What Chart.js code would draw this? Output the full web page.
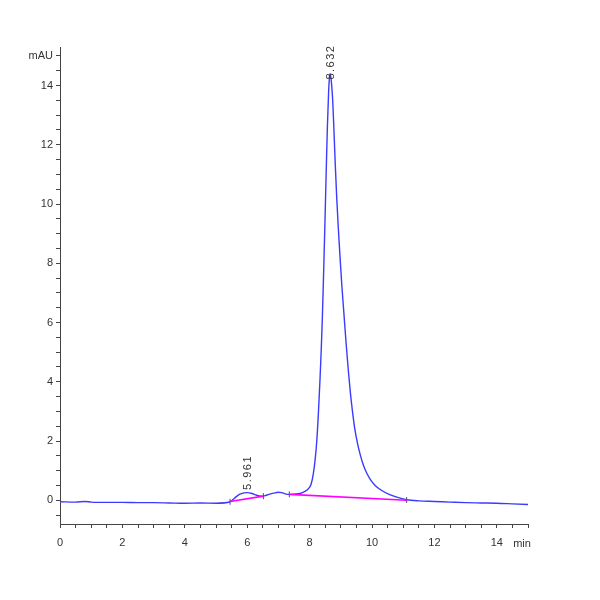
<!DOCTYPE html>
<html>
<head>
<meta charset="utf-8">
<script src="https://cdn.jsdelivr.net/npm/chart.js@4/dist/chart.umd.min.js"></script>
<style>
  body { margin: 0; background: #fff; }
  #wrap { width: 600px; height: 600px; }
</style>
</head>
<body>
<div id="wrap"><canvas id="chrom"></canvas></div>
<script>
// retention time (min) and detector signal (mAU)
const times = [0, 0.5, 0.8, 1.0, 1.5, 2.0, 2.5, 3.0, 3.5, 4.0, 4.5, 5.0, 5.45, 5.6, 5.75, 5.9, 6.0, 6.15, 6.3, 6.45,
  6.55, 6.7, 6.85, 7.0, 7.1, 7.25, 7.35, 7.5, 7.69, 7.85, 7.96, 8.05, 8.12, 8.18, 8.23, 8.28, 8.33, 8.37, 8.41, 8.45,
  8.49, 8.53, 8.57, 8.61, 8.64, 8.66, 8.70, 8.74, 8.78, 8.82, 8.87, 8.92, 8.97, 9.03, 9.10, 9.17, 9.24, 9.31, 9.38,
  9.45, 9.53, 9.62, 9.72, 9.83, 9.95, 10.10, 10.30, 10.55, 10.85, 11.11, 11.5, 12.0, 12.5, 13.0, 13.5, 14.0, 14.5, 15.0];
const signal = [-0.05, -0.06, -0.04, -0.06, -0.07, -0.07, -0.08, -0.08, -0.09, -0.1, -0.09, -0.1, -0.05, 0.08, 0.2, 0.25, 0.26, 0.23, 0.17, 0.14,
  0.15, 0.2, 0.24, 0.27, 0.26, 0.21, 0.2, 0.21, 0.23, 0.3, 0.39, 0.55, 0.9, 1.4, 2.0, 2.9, 4.0, 5.0, 6.2, 7.7,
  9.3, 11.0, 12.6, 13.8, 14.3, 14.4, 14.1, 13.5, 12.5, 11.4, 10.2, 9.2, 8.3, 7.3, 6.3, 5.3, 4.4, 3.6, 2.95,
  2.4, 1.95, 1.55, 1.2, 0.92, 0.7, 0.5, 0.34, 0.2, 0.09, 0.02, -0.02, -0.04, -0.06, -0.08, -0.09, -0.1, -0.12, -0.14];

// integration baselines (start/end time and level)
const base1Times = [5.45, 6.52];
const base1Values = [-0.04, 0.14];
const base2Times = [7.35, 11.11];
const base2Values = [0.2, 0.0];

// integration event markers
const eventTimes = [5.45, 6.52, 7.35, 11.11];
const eventValues = [-0.05, 0.14, 0.2, 0.01];

// peak labels
const peakTimes = [5.961, 8.632];
const peakLabelAt = [0.35, 14.2];
const peakNames = ['5.961', '8.632'];

const xMajor = [0, 2, 4, 6, 8, 10, 12, 14];
const yMajor = [0, 2, 4, 6, 8, 10, 12, 14];

const pts = (xs, ys) => xs.map((x, i) => ({ x: x, y: ys[i] }));
const fontFam = "'Liberation Sans Narrow', 'Liberation Sans', Arial, sans-serif";

const peakLabelPlugin = {
  id: 'peakLabels',
  afterDatasetsDraw(chart) {
    const { ctx, scales } = chart;
    ctx.save();
    ctx.font = '11px ' + fontFam;
    ctx.fillStyle = '#333';
    ctx.textAlign = 'left';
    ctx.textBaseline = 'middle';
    ctx.letterSpacing = '1.5px';
    peakTimes.forEach((t, i) => {
      const px = scales.x.getPixelForValue(t);
      const py = scales.y.getPixelForValue(peakLabelAt[i]);
      ctx.save();
      ctx.translate(px + 2, py);
      ctx.rotate(-Math.PI / 2);
      ctx.fillText(peakNames[i], 0, 0);
      ctx.restore();
    });
    // x axis unit
    ctx.letterSpacing = '0px';
    ctx.textAlign = 'center';
    ctx.textBaseline = 'top';
    ctx.fillText('min', scales.x.right - 6, scales.x.top + 14);
    ctx.restore();
  }
};

const halfSteps = (lo, hi) => {
  const out = [];
  for (let v = lo; v <= hi + 1e-9; v += 0.5) out.push({ value: Math.round(v * 10) / 10 });
  return out;
};

new Chart(document.getElementById('chrom'), {
  type: 'line',
  data: {
    datasets: [{
      data: pts(base1Times, base1Values),
      borderColor: '#ff00ff',
      borderWidth: 1.6,
      pointRadius: 0
    }, {
      data: pts(base2Times, base2Values),
      borderColor: '#ff00ff',
      borderWidth: 1.6,
      pointRadius: 0
    }, {
      data: pts(times, signal),
      borderColor: '#3b3bff',
      borderWidth: 1.4,
      pointRadius: 0,
      cubicInterpolationMode: 'monotone'
    }, {
      data: pts(eventTimes, eventValues),
      showLine: false,
      pointStyle: 'line',
      rotation: 90,
      pointRadius: 3,
      borderColor: '#555',
      borderWidth: 1
    }]
  },
  options: {
    responsive: true,
    maintainAspectRatio: false,
    animation: false,
    layout: { padding: { left: 0, right: 72, top: 47, bottom: 40 } },
    plugins: { legend: { display: false }, tooltip: { enabled: false } },
    scales: {
      x: {
        type: 'linear',
        min: 0,
        max: 15,
        afterBuildTicks: axis => { axis.ticks = halfSteps(0, 15); },
        afterFit: axis => { axis.height = 36; },
        grid: { drawOnChartArea: false, tickLength: 4, tickColor: '#444' },
        border: { color: '#444' },
        ticks: {
          color: '#333',
          font: { family: fontFam, size: 11 },
          maxRotation: 0,
          autoSkip: false,
          padding: 8,
          callback: v => xMajor.includes(v) ? String(v) : ''
        }
      },
      y: {
        min: -0.8,
        max: 15.3,
        afterBuildTicks: axis => { axis.ticks = halfSteps(-0.5, 15); },
        afterFit: axis => { axis.width = 60; },
        grid: { drawOnChartArea: false, tickLength: 4, tickColor: '#444' },
        border: { color: '#444' },
        ticks: {
          color: '#333',
          font: { family: fontFam, size: 11 },
          autoSkip: false,
          padding: 3,
          callback: v => v === 15 ? 'mAU' : (yMajor.includes(v) ? String(v) : '')
        }
      }
    }
  },
  plugins: [peakLabelPlugin]
});
</script>
</body>
</html>
